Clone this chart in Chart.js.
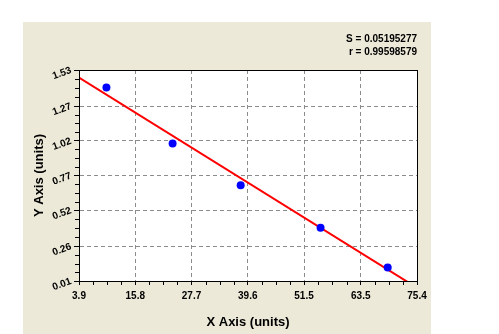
<!DOCTYPE html>
<html>
<head>
<meta charset="utf-8">
<script src="https://cdn.jsdelivr.net/npm/chart.js@4/dist/chart.umd.min.js"></script>
<style>
html,body{margin:0;padding:0;background:#fff;}
#wrap{width:499px;height:334px;position:relative;}
</style>
</head>
<body>
<div id="wrap"><canvas id="c" width="499" height="334"></canvas></div>
<script>
// ---- data ----
const xValues = [9.7, 23.7, 38.1, 55.0, 69.2];
const yValues = [1.404, 1.001, 0.700, 0.393, 0.108];
const fitX = [3.9, 75.4];
const fitY = [1.476, -0.039];
const xTicks = [3.9, 15.8, 27.7, 39.6, 51.5, 63.5, 75.4];
const yTicks = [0.01, 0.26, 0.52, 0.77, 1.02, 1.27, 1.53];
const statLines = ["S = 0.05195277", "r = 0.99598579"];
const xTitle = "X Axis (units)";
const yTitle = "Y Axis (units)";

const BEIGE = '#ECE9D8';
const FONT = '"Liberation Sans", Arial, sans-serif';

const points = xValues.map((x, i) => ({x: x, y: yValues[i]}));
const fitLine = fitX.map((x, i) => ({x: x, y: fitY[i]}));

const bgPlugin = {
  id: 'bg',
  beforeDraw(chart) {
    const ctx = chart.ctx, a = chart.chartArea;
    ctx.save();
    ctx.fillStyle = '#fff';
    ctx.fillRect(0, 0, chart.width, chart.height);
    ctx.fillStyle = BEIGE;
    ctx.fillRect(23, 22, 408, chart.height - 22);
    ctx.fillStyle = '#fff';
    ctx.fillRect(a.left, a.top, a.right - a.left, a.bottom - a.top);
    ctx.restore();
  }
};

const decoPlugin = {
  id: 'deco',
  afterDraw(chart) {
    const ctx = chart.ctx, a = chart.chartArea;
    const xs = chart.scales.x, ys = chart.scales.y;
    ctx.save();
    ctx.setLineDash([]);
    ctx.strokeStyle = '#000';
    ctx.lineWidth = 1;
    ctx.beginPath();
    for (let i = 0; i < xTicks.length - 1; i++) {
      for (let k = 1; k < 4; k++) {
        const v = xTicks[i] + (xTicks[i + 1] - xTicks[i]) * k / 4;
        const px = Math.round(xs.getPixelForValue(v)) + 0.5;
        ctx.moveTo(px, a.bottom);
        ctx.lineTo(px, a.bottom + 4);
      }
    }
    for (let i = 0; i < yTicks.length - 1; i++) {
      for (let k = 1; k < 4; k++) {
        const v = yTicks[i] + (yTicks[i + 1] - yTicks[i]) * k / 4;
        const py = Math.round(ys.getPixelForValue(v)) + 0.5;
        ctx.moveTo(a.left, py);
        ctx.lineTo(a.left - 4, py);
      }
    }
    ctx.stroke();
    ctx.strokeRect(Math.round(a.left) + 0.5, Math.round(a.top) + 0.5,
                   Math.round(a.right - a.left), Math.round(a.bottom - a.top));
    ctx.fillStyle = '#000';
    ctx.font = 'bold 10px ' + FONT;
    ctx.textAlign = 'right';
    ctx.textBaseline = 'middle';
    ctx.fillText(statLines[0], a.right, 39);
    ctx.fillText(statLines[1], a.right, 52);
    ctx.restore();
  }
};

new Chart(document.getElementById('c'), {
  type: 'scatter',
  data: {
    datasets: [
      {
        label: 'fit',
        data: fitLine,
        showLine: true,
        borderColor: '#FF0000',
        borderWidth: 2,
        pointRadius: 0,
        fill: false,
        order: 2
      },
      {
        label: 'points',
        data: points,
        pointStyle: 'circle',
        pointRadius: 4,
        backgroundColor: '#0000FF',
        borderColor: '#0000FF',
        borderWidth: 0,
        order: 1
      }
    ]
  },
  options: {
    responsive: false,
    animation: false,
    events: [],
    layout: {padding: {left: 0, top: 70, right: 82, bottom: 0}},
    plugins: {legend: {display: false}, tooltip: {enabled: false}},
    scales: {
      x: {
        type: 'linear',
        min: xTicks[0],
        max: xTicks[xTicks.length - 1],
        afterBuildTicks: s => { s.ticks = xTicks.map(v => ({value: v})); },
        afterFit: s => { s.height = 53; },
        ticks: {
          autoSkip: false,
          maxRotation: 0,
          minRotation: 0,
          padding: 5,
          color: '#000',
          font: {family: FONT, size: 10, weight: 'bold'},
          callback: (v, i) => String(xTicks[i])
        },
        grid: {
          color: ctx => (ctx.index === 0 || ctx.index === xTicks.length - 1) ? 'rgba(0,0,0,0)' : '#8c8c8c',
          tickLength: 4,
          tickColor: '#000',
          tickBorderDash: [],
          drawTicks: true
        },
        border: {display: true, color: '#000', width: 1, dash: [4, 3]},
        title: {
          display: true,
          text: xTitle,
          color: '#000',
          font: {family: FONT, size: 13, weight: 'bold'},
          padding: {top: 0, bottom: 4}
        }
      },
      y: {
        type: 'linear',
        min: yTicks[0],
        max: yTicks[yTicks.length - 1],
        afterBuildTicks: s => { s.ticks = yTicks.map(v => ({value: v})); },
        afterFit: s => { s.width = 79; },
        ticks: {
          autoSkip: false,
          minRotation: 20,
          maxRotation: 20,
          padding: 3,
          color: '#000',
          font: {family: FONT, size: 10, weight: 'bold'},
          callback: (v, i) => String(yTicks[i])
        },
        grid: {
          color: ctx => (ctx.index === 0 || ctx.index === yTicks.length - 1) ? 'rgba(0,0,0,0)' : '#8c8c8c',
          tickLength: 5,
          tickColor: '#000',
          tickBorderDash: [],
          drawTicks: true
        },
        border: {display: true, color: '#000', width: 1, dash: [4, 3]},
        title: {
          display: true,
          text: yTitle,
          color: '#000',
          font: {family: FONT, size: 13, weight: 'bold'},
          padding: {top: 32, bottom: 0}
        }
      }
    }
  },
  plugins: [bgPlugin, decoPlugin]
});
</script>
</body>
</html>
